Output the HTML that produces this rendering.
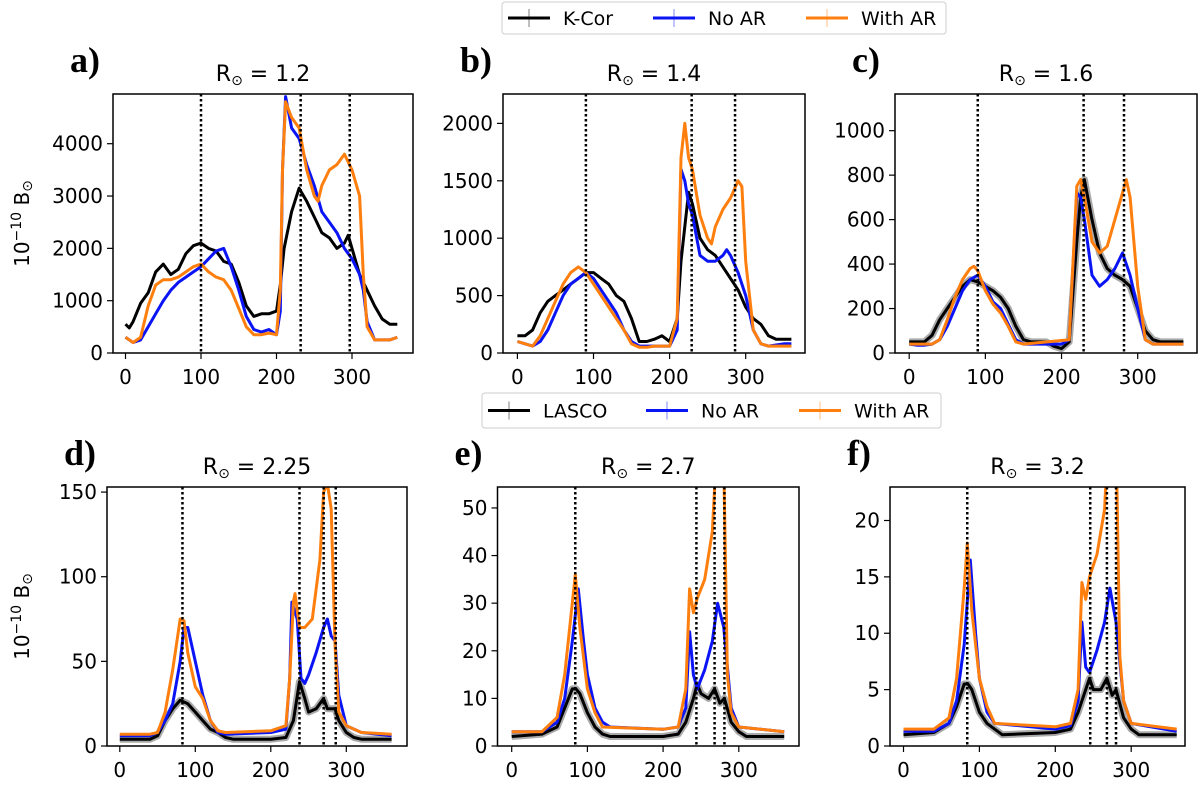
<!DOCTYPE html>
<html><head><meta charset="utf-8"><style>
body{margin:0;background:#fff;}
svg{display:block;font-family:"DejaVu Sans","Liberation Sans",sans-serif;}
</style></head><body>
<svg id="fig" width="1200" height="786" viewBox="0 0 1200 786"></svg>
<script>
// ---- data (x = angle in degrees, y = brightness) ----
const aX=[0,5,10,20,30,40,50,60,70,80,90,100,110,120,130,140,150,160,170,180,190,200,205,210,220,230,240,250,260,270,280,290,295,300,310,320,330,340,350,360];
const aK=[550,480,600,950,1150,1550,1700,1500,1600,1900,2050,2100,2000,1950,1750,1700,1350,900,700,750,750,800,1300,2000,2700,3150,2900,2600,2300,2200,2000,2100,2250,2000,1500,1200,900,650,550,550];
const aNX=[0,10,20,30,40,50,60,70,80,90,100,110,120,130,140,150,160,170,180,190,200,205,208,212,220,230,240,250,260,270,280,290,300,310,315,320,330,340,350,360];
const aN=[300,200,250,500,750,1000,1200,1350,1450,1550,1650,1800,1950,2000,1650,1200,700,450,400,450,350,800,3500,4900,4300,4100,3600,3200,2700,2500,2300,2000,1800,1500,1200,600,250,250,250,300];
const aWX=[0,10,20,30,40,50,60,70,80,90,100,110,120,130,140,150,160,170,180,190,200,205,208,212,220,230,240,250,255,260,270,280,290,300,310,315,320,330,340,350,360];
const aW=[300,200,300,900,1300,1400,1400,1450,1550,1650,1700,1550,1450,1400,1200,850,500,350,350,380,350,1200,3500,4800,4500,4300,3500,3000,2900,3200,3500,3600,3800,3500,3000,1500,500,250,250,250,300];

const bX=[0,10,20,30,40,50,60,70,80,90,100,110,120,130,140,150,160,170,180,190,200,210,215,220,225,230,240,250,260,270,280,290,300,310,320,330,340,350,360];
const bK=[150,150,200,350,450,500,550,600,650,700,700,650,600,500,450,300,100,100,120,150,100,300,800,1100,1400,1300,1000,900,850,750,650,550,400,300,250,150,120,120,120];
const bNX=[0,10,20,30,40,50,60,70,80,90,100,110,120,130,140,150,160,170,180,190,200,210,215,220,225,230,240,250,260,270,275,280,290,300,310,320,330,340,350,360];
const bN=[100,80,60,100,200,350,500,600,650,700,650,550,450,350,200,100,60,60,60,60,60,200,1600,1500,1300,1200,850,800,800,850,900,850,700,500,200,80,60,70,80,80];
const bWX=[0,10,20,30,40,50,60,70,80,90,100,110,120,130,140,150,160,170,180,190,200,210,215,220,225,230,240,250,255,260,270,280,290,295,300,310,320,330,340,350,360];
const bW=[100,80,60,150,300,450,600,700,750,700,600,500,400,300,200,80,50,50,60,60,60,300,1700,2000,1700,1600,1200,1000,950,1100,1250,1350,1500,1450,800,200,80,60,60,60,60];

const cX=[0,10,20,30,40,50,60,70,80,90,100,110,120,130,140,150,160,170,180,190,200,210,220,225,230,240,250,260,270,280,290,300,310,320,330,340,350,360];
const cK=[50,50,50,80,150,200,250,300,330,320,300,280,250,200,120,60,50,50,50,30,20,50,500,700,780,600,450,380,350,330,300,200,100,60,50,50,50,50];
const cNX=[0,10,20,30,40,50,60,70,80,90,100,110,120,130,140,150,200,210,220,225,230,240,250,260,270,280,290,300,310,320,360];
const cN=[40,35,35,40,60,120,200,280,330,350,300,230,200,130,60,40,40,60,720,700,600,350,300,330,380,450,350,200,60,40,40];
const cWX=[0,30,40,50,60,70,80,85,90,100,110,120,130,140,150,210,220,225,230,240,250,260,270,280,285,290,300,310,320,360];
const cW=[40,40,60,150,250,330,380,390,370,280,220,180,120,50,40,60,750,780,700,500,450,480,600,720,780,700,300,60,40,40];

const dX=[0,40,50,60,70,80,90,100,110,120,130,140,150,200,220,230,238,245,250,260,270,275,285,290,300,310,320,360];
const dL=[4,4,6,15,22,27,25,20,15,10,8,5,4,4,5,15,38,28,20,22,28,22,22,15,8,5,4,4];
const dNX=[0,40,50,60,70,80,85,90,100,110,120,130,140,200,220,225,228,235,240,245,250,260,270,275,280,285,290,300,320,360];
const dN=[6,6,8,15,25,50,70,70,50,30,15,8,7,8,10,40,85,75,40,37,42,55,70,75,65,62,30,12,8,6];
const dWX=[0,40,50,60,70,80,85,90,100,110,120,130,140,200,220,225,230,232,238,245,255,265,270,275,280,285,290,300,320,360];
const dW=[7,7,8,20,45,75,74,55,35,28,15,9,8,9,12,40,85,90,70,70,75,110,150,155,140,60,20,12,8,7];

const eX=[0,40,60,70,80,85,90,100,110,120,130,200,220,230,240,245,250,260,268,275,281,290,300,310,360];
const eL=[2,2.5,4,8,12,12,11,7,4,2.5,2,2,2.5,5,10,13,11,10,12,9,10,5,3,2,2];
const eNX=[0,40,60,70,80,88,95,100,110,120,130,200,220,230,235,240,245,255,265,272,280,290,300,360];
const eN=[3,3,5,10,22,33,22,15,8,5,4,3.5,4,8,24,15,12,16,22,30,25,8,4,3];
const eWX=[0,40,60,70,80,84,90,100,110,120,200,220,230,235,240,245,255,265,270,280,285,290,300,360];
const eW=[3,3,6,15,30,36,25,12,7,4,3.5,4,12,33,28,31,35,45,60,60,15,7,4,3];

const fX=[0,40,60,70,80,85,90,100,110,120,130,200,220,230,240,245,250,260,268,275,280,290,300,310,360];
const fL=[1,1.2,2,3.5,5.5,5.5,5,3,2,1.5,1,1.2,1.5,3,5,6,5,5,6,4.5,5,2.5,1.5,1,1];
const fNX=[0,40,60,70,80,88,95,100,110,120,200,220,230,235,240,245,255,265,272,280,290,300,360];
const fN=[1.3,1.3,2,4,9,16.5,10,6,3,2,1.5,1.8,4,11,7,6.5,8.5,11,14,11,4,2,1.3];
const fWX=[0,40,60,70,80,84,90,100,110,120,200,220,230,235,240,245,255,265,270,280,285,290,300,360];
const fW=[1.5,1.5,2.5,6,14,18,12,6,3.5,2,1.7,2,5,14.5,13,15,17,21,28,28,8,4,2,1.5];

const aLines=[100,232,297], bLines=[90,229,286], cLines=[90,229,282];
const dLines=[83,238,270,286], eLines=[84,244,268,281], fLines=[84,246,268,280];
const aTicks=[0,1000,2000,3000,4000], bTicks=[0,500,1000,1500,2000], cTicks=[0,200,400,600,800,1000];
const dTicks=[0,50,100,150], eTicks=[0,10,20,30,40,50], fTicks=[0,5,10,15,20];
const xTicks=[0,100,200,300];

const NS="http://www.w3.org/2000/svg";
const svg=document.getElementById('fig');
function mk(tag,attrs,parent,txt){const e=document.createElementNS(NS,tag);for(const k in attrs)e.setAttribute(k,attrs[k]);if(txt!==undefined)e.textContent=txt;(parent||svg).appendChild(e);return e;}

const panels=[
 {id:'a',title:'1.2',L:113,R:413,T:94,B:353,x0:125.5,xs:0.755,ymax:4950,ticks:aTicks,vl:aLines,band:false,
  s:[[aX,aK,'#000'],[aNX,aN,'#0a14f5'],[aWX,aW,'#ff7f0e']],ylab:true},
 {id:'b',title:'1.4',L:503,R:805,T:94,B:353,x0:517.4,xs:0.761,ymax:2256,ticks:bTicks,vl:bLines,band:false,
  s:[[bX,bK,'#000'],[bNX,bN,'#0a14f5'],[bWX,bW,'#ff7f0e']]},
 {id:'c',title:'1.6',L:895,R:1197,T:94,B:353,x0:909.2,xs:0.7617,ymax:1165,ticks:cTicks,vl:cLines,band:true,
  s:[[cX,cK,'#000'],[cNX,cN,'#0a14f5'],[cWX,cW,'#ff7f0e']]},
 {id:'d',title:'2.25',L:107,R:407,T:487,B:746,x0:119.8,xs:0.755,ymax:153,ticks:dTicks,vl:dLines,band:true,
  s:[[dX,dL,'#000'],[dNX,dN,'#0a14f5'],[dWX,dW,'#ff7f0e']],ylab:true},
 {id:'e',title:'2.7',L:497.5,R:799,T:487,B:746,x0:511.7,xs:0.757,ymax:54.4,ticks:eTicks,vl:eLines,band:true,
  s:[[eX,eL,'#000'],[eNX,eN,'#0a14f5'],[eWX,eW,'#ff7f0e']]},
 {id:'f',title:'3.2',L:890,R:1185,T:487,B:746,x0:903.5,xs:0.759,ymax:22.97,ticks:fTicks,vl:fLines,band:true,
  s:[[fX,fL,'#000'],[fNX,fN,'#0a14f5'],[fWX,fW,'#ff7f0e']]}
];

panels.forEach(p=>{
  const g=mk('g',{});
  
  
  const sx=v=>p.x0+v*p.xs;
  const sy=v=>p.B-(v/p.ymax)*(p.B-p.T);
  const cid='clip'+p.id;
  const cp=mk('clipPath',{id:cid},g);mk('rect',{x:p.L,y:p.T,width:p.R-p.L,height:p.B-p.T},cp);
  const plot=mk('g',{'clip-path':'url(#'+cid+')'},g);
  const names=['observed','no-ar','with-ar'];
  p.s.forEach((s,i)=>{
    const d=s[0].map((x,j)=>(j?'L':'M')+sx(x).toFixed(1)+','+sy(s[1][j]).toFixed(1)).join('');
    if(i===0&&p.band){const b=mk('path',{d:d,fill:'none',stroke:'#aaa','stroke-width':7,'stroke-linejoin':'round'},plot);
      }
    const l=mk('path',{d:d,fill:'none',stroke:s[2],'stroke-width':3,'stroke-linejoin':'round'},plot);
    
    
  });
  p.vl.forEach(v=>{const l=mk('line',{x1:sx(v),x2:sx(v),y1:p.T,y2:p.B,stroke:'#000','stroke-width':2.5,'stroke-dasharray':'2.5,2.5'},plot);
    });
  const fr=mk('rect',{x:p.L,y:p.T,width:p.R-p.L,height:p.B-p.T,fill:'none',stroke:'#000','stroke-width':1.5},g);
  
  p.ticks.forEach(t=>{const y=sy(t);mk('line',{x1:p.L-6,x2:p.L,y1:y,y2:y,stroke:'#000','stroke-width':1.2},g);
    const tx=mk('text',{x:p.L-10,y:y+7,'text-anchor':'end','font-size':20},g,String(t));
    });
  xTicks.forEach(t=>{const x=sx(t);mk('line',{x1:x,x2:x,y1:p.B,y2:p.B+6,stroke:'#000','stroke-width':1.2},g);
    const tx=mk('text',{x:x,y:p.B+31,'text-anchor':'middle','font-size':20},g,String(t));
    });
  const ti=mk('text',{x:(p.L+p.R)/2,y:p.T-13,'text-anchor':'middle','font-size':22},g);
  
  ti.innerHTML='R<tspan font-size="14" dy="4">⊙</tspan><tspan dy="-4"> = '+p.title+'</tspan>';
  const lb=mk('text',{x:p.L-43,y:p.T-22,'font-size':36,'font-weight':'bold','font-family':'Liberation Serif,serif'},g,p.id+')');
  
  if(p.ylab){const cy=(p.T+p.B)/2;const yl=mk('text',{x:0,y:0,'text-anchor':'middle','font-size':20,transform:'translate(29,'+cy+') rotate(-90)'},g);
    
    yl.innerHTML='10<tspan font-size="14" dy="-8">−10</tspan><tspan dy="8"> B</tspan><tspan font-size="14" dy="3">⊙</tspan>';}
});

function legend(x,y,w,h,first,gap){
  const g=mk('g',{});
  
  
  mk('rect',{x:x,y:y,width:w,height:h,rx:3,fill:'#fff',stroke:'#ccc','stroke-width':1},g);
  const items=[[first,'#000'],['No AR','#0a14f5'],['With AR','#ff7f0e']];
  let cx=x+6;
  items.forEach((it,i)=>{const ly=y+h/2;
    const e=mk('g',{},g);
    
    
    mk('line',{x1:cx,x2:cx+42,y1:ly,y2:ly,stroke:it[1],'stroke-width':3},e);
    mk('line',{x1:cx+21,x2:cx+21,y1:ly-9,y2:ly+9,stroke:it[1],'stroke-width':1,opacity:0.5},e);
    mk('text',{x:cx+55,y:ly+7,'font-size':19},e,it[0]);
    cx+=gap[i];});
}
legend(502,2,444,32,'K-Cor',[145,153,0]);
legend(482,393,459,35,'LASCO',[158,153,0]);
</script>
</body></html>
